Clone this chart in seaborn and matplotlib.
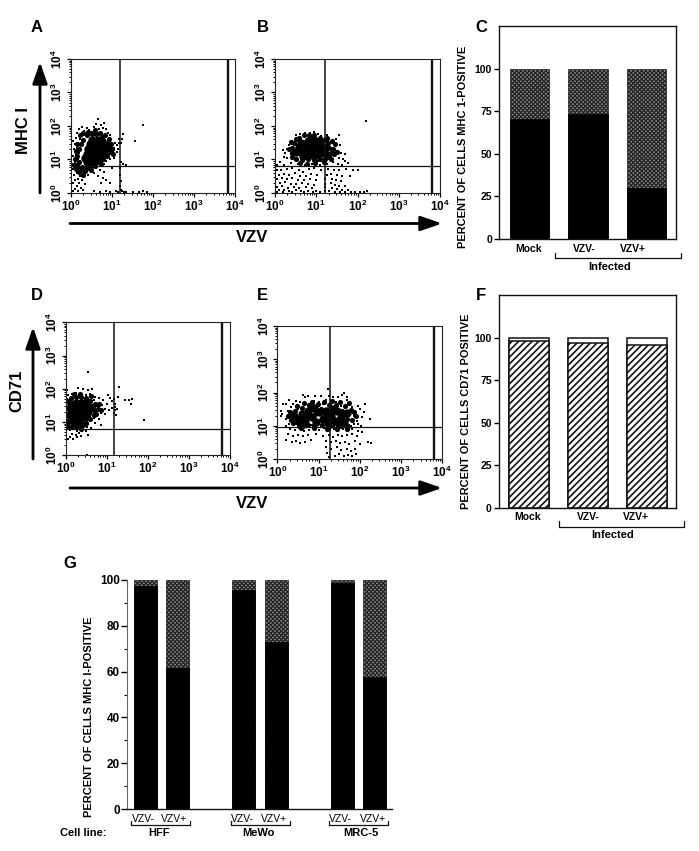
import matplotlib
matplotlib.use("Agg")
import matplotlib.pyplot as plt
import numpy as np
import seaborn as sns
from matplotlib.ticker import FuncFormatter, LogLocator, MultipleLocator, NullFormatter

W, H = 699, 851

""" Data, flow panels are log10 positions read from the picture """
a_core = [(0.42,1.0),(0.57,1.0),(0.72,1.05),(0.4,1.15),(0.52,1.15),(0.67,1.15),(0.8,1.2),(0.42,1.3),(0.57,1.3),
          (0.72,1.3),(0.82,1.32),(0.47,1.45),(0.62,1.45),(0.75,1.45),(0.52,1.58),(0.66,1.58),(0.35,1.05),(0.38,0.92),
          (0.5,0.87),(0.76,1.55)]
a_mid = [(0.2,1.3),(0.25,1.45),(0.3,1.58),(0.38,1.72),(0.5,1.75),(0.62,1.75),(0.75,1.68),(0.87,1.5),(0.92,1.38),
         (0.94,1.22),(0.88,1.1),(0.78,1.0),(0.66,0.92),(0.58,0.82),(0.4,0.75),(0.28,0.78),(0.2,0.92),(0.15,1.1),
         (0.25,0.7),(0.35,0.65),(0.15,0.85),(0.1,1.0),(0.12,1.25),(0.15,1.45),(0.22,1.72),(0.3,1.8),(0.42,1.82),
         (0.58,1.88),(0.7,1.8),(0.82,1.72),(0.97,1.45),(1.0,1.3),(1.03,1.15),(0.72,0.88),(0.2,0.62),(0.12,0.72),
         (0.3,0.55),(0.08,0.85),(0.92,1.62),(0.48,0.7)]
a_halo = [(0.65,2.2),(0.6,2.05),(0.72,2.02),(0.8,2.08),(0.55,1.98),(0.68,1.92),(0.78,1.95),(0.85,1.9),(0.4,1.95),
          (0.28,1.97),(0.32,1.85),(0.45,1.88),(0.5,1.82),(0.2,1.9),(0.9,1.8),(0.95,1.72),(0.15,1.8),(0.25,1.75),
          (0.12,1.65),(0.22,1.62),(0.18,1.5),(0.1,1.45),(0.05,1.55),(0.08,1.3),(0.15,1.35),(0.2,1.2),(0.12,1.12),
          (0.05,1.1),(0.18,1.02),(0.1,0.92),(0.03,0.88),(0.15,0.82),(0.95,1.55),(1.0,1.45),(1.05,1.35),(0.98,1.2),
          (0.92,1.35),(0.9,1.1),(1.02,1.25),(1.08,1.5),(1.12,1.42),(1.18,1.48),(1.22,1.5),(1.27,1.75),(1.25,1.6),
          (1.18,1.62),(1.15,1.3),(0.95,1.02),(0.85,0.95),(0.8,0.88),(1.05,1.05),(1.13,1.22),(1.55,1.55),(1.75,2.03),
          (1.22,0.92),(1.28,0.88),(1.35,0.85),(0.2,0.75),(0.3,0.78),(0.4,0.72),(0.12,0.7),(0.05,0.72),(0.25,0.65),
          (0.35,0.62),(0.15,0.6),(0.08,0.55),(0.22,0.52),(0.3,0.5),(0.42,0.55),(0.5,0.7),(0.6,0.75),(0.55,0.6),
          (0.18,0.42),(0.28,0.38),(0.1,0.4),(0.06,0.3),(0.2,0.3),(0.35,0.28),(0.15,0.2),(0.25,0.15),(0.1,0.12),
          (0.05,0.05),(0.3,0.08),(0.18,0.05),(0.7,0.68),(0.8,0.62),(0.78,0.45),(0.85,0.4),(0.95,0.3),(1.0,0.75),
          (0.65,0.5),(0.72,0.3),(1.2,0.75),(1.2,0.55),(1.21,0.35),(1.2,0.2),(1.22,0.1),(1.1,0.05),(1.15,0.03),
          (1.25,0.05),(1.3,0.04),(0.85,0.05),(0.7,0.04),(0.55,0.06),(1.5,0.04),(1.65,0.03),(1.75,0.05),(1.85,0.03),
          (1.35,0.03),(0.95,0.03)]

b_core = [(0.52,1.22),(0.58,1.36),(0.64,1.5),(0.67,1.1),(0.72,1.25),(0.78,1.4),(0.8,1.55),(0.84,1.12),(0.9,1.28),
          (0.94,1.45),(1.0,1.55),(1.02,1.14),(1.07,1.28),(1.1,1.45),(1.17,1.2),(1.2,1.35),(0.62,1.22),(0.87,1.6),
          (1.22,1.18)]
b_mid = [(0.4,1.2),(0.42,1.35),(0.45,1.48),(0.5,1.6),(0.58,1.65),(0.7,1.72),(0.82,1.72),(0.95,1.72),(1.08,1.65),
         (1.18,1.58),(1.28,1.48),(1.32,1.35),(1.35,1.2),(1.3,1.08),(1.2,1.02),(1.08,1.0),(0.95,0.98),(0.8,1.0),
         (0.65,0.98),(0.52,1.02),(0.42,1.08),(0.35,1.3),(0.38,1.52),(1.4,1.3),(1.45,1.45),(1.38,1.55),(1.42,1.15),
         (1.5,1.22),(1.25,1.65),(0.6,0.9),(0.78,0.88),(0.98,0.9),(1.18,0.92),(1.35,1.0)]
b_halo = [(2.2,2.15),(0.6,1.75),(0.72,1.8),(0.85,1.78),(0.95,1.82),(1.05,1.75),(1.12,1.7),(1.25,1.72),(0.5,1.72),
          (0.42,1.55),(0.35,1.42),(0.3,1.3),(0.25,1.2),(0.2,1.28),(0.38,1.15),(0.42,1.02),(0.3,1.05),(0.22,1.08),
          (0.55,0.98),(0.68,0.95),(0.8,0.97),(0.92,0.98),(1.05,0.96),(1.18,1.0),(1.3,1.05),(1.32,1.2),(1.38,1.3),
          (1.3,1.4),(1.35,1.52),(1.42,1.48),(1.48,1.6),(1.55,1.72),(1.58,1.42),(1.5,1.25),(1.6,1.18),(1.42,1.1),
          (1.55,1.05),(1.65,1.0),(1.7,1.15),(1.28,1.55),(1.7,0.95),(1.52,0.88),(1.62,0.85),(1.4,0.92),(1.78,0.9),
          (1.25,0.88),(1.08,0.85),(0.9,0.88),(0.72,0.85),(0.55,0.88),(0.38,0.9),(0.22,0.85),(0.12,0.92),(0.05,0.85),
          (0.15,0.7),(0.05,0.68),(0.28,0.72),(0.42,0.75),(0.58,0.7),(0.68,0.62),(0.82,0.72),(0.95,0.75),(1.12,0.7),
          (1.28,0.72),(1.42,0.68),(1.55,0.7),(1.72,0.72),(1.9,0.7),(2.02,0.68),(0.1,0.55),(0.22,0.58),(0.35,0.55),
          (0.48,0.6),(0.6,0.5),(0.75,0.52),(0.88,0.58),(1.02,0.55),(1.25,0.55),(1.35,0.58),(1.5,0.55),(1.62,0.5),
          (1.82,0.52),(0.05,0.42),(0.18,0.45),(0.3,0.42),(0.42,0.45),(0.55,0.38),(0.7,0.4),(0.85,0.42),(1.0,0.38),
          (1.22,0.42),(1.38,0.42),(1.48,0.38),(1.6,0.35),(0.12,0.3),(0.25,0.32),(0.38,0.28),(0.5,0.28),(0.65,0.3),
          (0.8,0.28),(0.95,0.25),(1.22,0.28),(1.35,0.3),(1.45,0.25),(1.55,0.22),(1.7,0.2),(0.06,0.18),(0.18,0.2),
          (0.32,0.16),(0.45,0.18),(0.58,0.15),(0.75,0.18),(0.9,0.14),(1.22,0.18),(1.38,0.15),(1.5,0.13),(1.62,0.1),
          (1.78,0.1),(0.1,0.08),(0.22,0.1),(0.35,0.06),(0.5,0.08),(0.62,0.05),(0.8,0.07),(1.0,0.06),(1.1,0.04),
          (1.22,0.06),(1.3,0.05),(1.45,0.04),(1.58,0.04),(1.7,0.03),(1.85,0.03),(1.95,0.04),(2.05,0.03),(2.15,0.03),
          (2.22,0.05),(0.05,0.03),(0.2,0.03),(0.42,0.03),(0.7,0.03),(0.92,0.03)]

d_core = [(0.12,1.1),(0.24,1.08),(0.36,1.1),(0.48,1.15),(0.1,1.25),(0.2,1.25),(0.32,1.25),(0.44,1.28),(0.55,1.3),
          (0.12,1.4),(0.24,1.4),(0.36,1.42),(0.48,1.45),(0.57,1.45),(0.14,1.55),(0.26,1.58),(0.38,1.58),(0.49,1.6),
          (0.2,0.98),(0.34,0.98)]
d_mid = [(0.05,1.0),(0.04,1.2),(0.04,1.42),(0.06,1.62),(0.14,1.72),(0.25,1.75),(0.38,1.75),(0.5,1.72),(0.6,1.62),
         (0.68,1.5),(0.7,1.35),(0.68,1.2),(0.6,1.08),(0.5,0.98),(0.42,0.9),(0.28,0.85),(0.15,0.85),(0.06,0.88),
         (0.78,1.4),(0.75,1.25),(0.72,1.55),(0.2,1.85),(0.35,1.85),(0.62,1.78),(0.8,1.55),(0.85,1.35),(0.38,0.8)]
d_halo = [(0.55,2.5),(0.3,2.02),(0.42,1.98),(0.55,1.95),(0.65,1.98),(0.15,1.85),(0.25,1.88),(0.38,1.85),(0.5,1.82),
          (0.6,1.85),(0.05,1.8),(0.72,1.75),(0.68,1.65),(0.75,1.58),(0.82,1.72),(0.9,1.65),(0.62,1.6),(0.68,1.5),
          (0.78,1.45),(0.88,1.5),(0.95,1.4),(1.0,1.55),(1.02,1.82),(1.08,1.72),(1.18,1.7),(1.12,1.62),(1.2,1.55),
          (0.65,1.35),(0.75,1.3),(0.85,1.28),(0.95,1.25),(1.05,1.35),(1.12,1.42),(1.2,1.45),(1.2,1.35),(1.18,1.28),
          (1.25,1.4),(1.22,1.2),(1.3,2.05),(1.27,1.75),(1.45,1.65),(1.55,1.65),(1.6,1.55),(1.62,1.7),(1.9,1.05),
          (0.6,1.18),(0.7,1.12),(0.62,1.05),(0.8,1.08),(0.5,1.05),(0.55,0.95),(0.72,0.98),(0.42,0.9),(0.52,0.85),
          (0.05,0.9),(0.12,0.85),(0.22,0.88),(0.3,0.85),(0.38,0.82),(0.1,0.75),(0.18,0.78),(0.28,0.72),(0.4,0.72),
          (0.5,0.74),(0.62,0.82),(0.15,0.65),(0.25,0.62),(0.33,0.66),(0.1,0.55),(0.18,0.5),(0.28,0.55),(0.05,0.48),
          (0.38,0.58),(0.55,0.62),(0.52,0.02),(0.03,1.95),(0.02,1.7),(0.03,1.05),(0.85,0.92)]

e_core = [(0.5,1.15),(0.6,1.35),(0.68,1.15),(0.75,1.45),(0.85,1.25),(0.95,1.1),(1.0,1.4),(1.1,1.2),(1.18,1.45),
          (1.22,1.08),(1.3,1.3),(1.4,1.15),(1.45,1.45),(1.55,1.25),(1.62,1.08),(1.68,1.38),(0.4,1.3),(1.35,1.5),
          (0.9,1.52),(1.2,1.28),(1.5,1.05)]
e_mid = [(0.38,1.08),(0.42,1.45),(0.48,1.6),(0.52,1.02),(0.55,1.25),(0.6,1.52),(0.62,1.0),(0.65,1.68),(0.72,1.3),
         (0.75,1.02),(0.78,1.62),(0.85,1.72),(0.88,1.02),(0.92,1.35),(0.98,1.65),(1.05,1.5),(1.08,1.02),(1.12,1.72),
         (1.15,1.35),(1.25,1.62),(1.28,1.0),(1.32,1.75),(1.38,1.4),(1.42,1.62),(1.48,0.98),(1.52,1.7),(1.58,1.45),
         (1.65,1.6),(1.7,1.2),(1.72,1.0),(1.78,1.48),(1.82,1.18),(1.85,1.4),(1.58,1.0),(0.32,1.18),(0.3,1.4),(0.25,1.3),
         (1.9,1.28),(1.75,1.68),(0.58,0.92),(0.9,0.92),(1.2,0.9),(1.45,0.9),(1.7,0.9)]
e_halo = [(0.2,1.2),(0.25,1.45),(0.28,1.05),(0.32,1.55),(0.35,1.2),(0.38,1.65),(0.42,1.05),(0.45,1.75),(0.5,1.5),
          (0.55,1.7),(0.58,1.0),(0.62,1.55),(0.68,1.85),(0.72,0.98),(0.78,1.65),(0.82,1.02),(0.88,1.75),(0.92,1.88),
          (1.0,1.7),(1.05,1.0),(1.1,1.65),(1.18,1.78),(1.22,2.1),(1.25,1.9),(1.32,1.72),(1.38,1.0),(1.42,1.7),
          (1.48,1.85),(1.55,1.6),(1.62,2.0),(1.7,1.85),(1.75,1.65),(1.8,1.55),(1.85,1.3),(1.88,1.45),(1.92,1.15),
          (1.95,1.6),(2.0,1.5),(2.05,1.25),(2.12,1.65),(2.1,1.4),(1.95,1.05),(2.02,0.98),(1.78,0.98),(1.85,1.05),
          (0.15,1.65),(0.12,1.35),(0.08,1.28),(0.1,1.45),(0.22,1.65),(0.28,1.78),(0.62,1.92),(0.75,1.9),(1.05,1.88),
          (1.35,1.85),(1.58,1.92),(1.68,1.78),(2.25,1.2),(0.2,0.98),(0.3,0.9),(0.42,0.88),(0.52,0.92),(0.65,0.85),
          (0.78,0.88),(0.9,0.9),(1.02,0.86),(1.12,0.92),(1.28,0.88),(1.38,0.9),(1.48,0.86),(1.6,0.9),(1.72,0.88),
          (1.82,0.9),(1.95,0.85),(2.05,0.8),(0.25,0.75),(0.38,0.7),(0.5,0.72),(0.62,0.68),(0.75,0.72),(0.95,0.75),
          (1.1,0.7),(1.25,0.72),(1.35,0.65),(1.48,0.72),(1.58,0.68),(1.7,0.72),(1.8,0.75),(1.92,0.68),(0.2,0.58),
          (0.35,0.5),(0.45,0.55),(0.55,0.48),(0.68,0.52),(0.82,0.58),(1.18,0.55),(1.3,0.5),(1.42,0.55),(1.52,0.48),
          (1.65,0.52),(1.75,0.45),(1.88,0.55),(2.2,0.5),(2.28,0.48),(1.18,0.35),(1.3,0.3),(1.45,0.35),(1.55,0.28),
          (1.68,0.3),(1.78,0.25),(1.88,0.3),(2.0,0.45),(1.4,0.1),(1.5,0.14),(1.62,0.08),(1.72,0.12),(1.82,0.1),
          (1.9,0.15),(1.25,0.05),(1.2,0.18)]

gate_a = (1.195, 3.83, 0.815)
gate_b = (1.21, 3.80, 0.805)
gate_d = (1.19, 3.82, 0.79)
gate_e = (1.27, 3.80, 0.95)

status_labels = ["Mock", "VZV-", "VZV+"]
c_low = [70.5, 73, 30]
c_total = [100, 100, 100]
f_low = [98, 97, 96]
f_total = [100, 100, 100]

g_order = ["HFF -", "HFF +", " ", "MeWo -", "MeWo +", "  ", "MRC-5 -", "MRC-5 +"]
g_groups = ["HFF -", "HFF +", "MeWo -", "MeWo +", "MRC-5 -", "MRC-5 +"]
g_low = [97.5, 61.5, 95.5, 73, 98.5, 57.5]
g_total = [100, 100, 100, 100, 100, 100]

""" Parameter settings """
sns.set_style("white")
plt.rcParams["font.family"] = ["Liberation Sans", "DejaVu Sans"]
plt.rcParams["font.weight"] = "bold"
plt.rcParams["text.color"] = "black"
plt.rcParams["axes.labelcolor"] = "black"
plt.rcParams["xtick.color"] = "black"
plt.rcParams["ytick.color"] = "black"
plt.rcParams["mathtext.fontset"] = "custom"
plt.rcParams["mathtext.bf"] = "Liberation Sans:bold"
plt.rcParams["mathtext.rm"] = "Liberation Sans:bold"
plt.rcParams["hatch.linewidth"] = 0.9

fig = plt.figure(figsize=(W / 100, H / 100), dpi=100, facecolor="white")


def px_axes(left, top, right, bottom):
    return fig.add_axes([left / W, 1 - bottom / H, (right - left) / W, (bottom - top) / H])


def flow_panel(box, core, mid, halo, gate):
    ax = px_axes(*box)
    core = np.array(core)
    mid = np.array(mid)
    halo = np.array(halo)
    sns.scatterplot(x=10 ** core[:, 0], y=10 ** core[:, 1], s=36, color="black", linewidth=0, ax=ax)
    sns.scatterplot(x=10 ** mid[:, 0], y=10 ** mid[:, 1], s=14, color="black", linewidth=0, ax=ax)
    sns.scatterplot(x=10 ** halo[:, 0], y=10 ** halo[:, 1], s=2.6, marker="s", color="black", linewidth=0, ax=ax)
    ax.set(xscale="log", yscale="log", xlim=(1, 1e4), ylim=(1, 1e4))
    ax.axvline(10 ** gate[0], color="#111111", lw=1.1)
    ax.axvline(10 ** gate[1], color="#111111", lw=1.7)
    ax.axhline(10 ** gate[2], color="#111111", lw=0.9)
    fmt = FuncFormatter(lambda v, p: r"$\mathbf{10^{%d}}$" % round(np.log10(v)))
    for axis in (ax.xaxis, ax.yaxis):
        axis.set_major_locator(LogLocator(base=10, numticks=6))
        axis.set_minor_locator(LogLocator(base=10, subs=np.arange(2, 10) * 0.1, numticks=12))
        axis.set_major_formatter(fmt)
        axis.set_minor_formatter(NullFormatter())
    ax.tick_params(which="major", direction="out", length=3, width=0.9, labelsize=8.5, pad=1, left=True, bottom=True)
    ax.tick_params(which="minor", direction="out", length=1.5, width=0.7, left=True, bottom=True)
    ax.tick_params(axis="y", labelrotation=90)
    for label in ax.get_yticklabels():
        label.set_va("center")
    for spine in ax.spines.values():
        spine.set_color("#222222")
        spine.set_linewidth(0.8)
    return ax


def bar_panel(box, x_order, total, low, groups, xlim, ylim, width, top_style, low_style):
    ax = px_axes(*box)
    sns.barplot(x=groups, y=total, order=x_order, width=width, saturation=1, ax=ax, **top_style)
    sns.barplot(x=groups, y=low, order=x_order, width=width, saturation=1, ax=ax, **low_style)
    ax.set(xlim=xlim, ylim=ylim, xlabel="", ylabel="")
    ax.set_xticks([])
    return ax


def bracket(x0, x1, y, up):
    overlay.plot([x0, x0, x1, x1], [y - up, y, y, y - up], color="#111111", lw=0.9)


stipple = {"color": "#8a8a8a", "edgecolor": "#222222", "hatch": "xxxxxxxx", "linewidth": 0.5}
solid = {"color": "black", "edgecolor": "black", "linewidth": 0.5}
blank = {"color": "white", "edgecolor": "#111111", "linewidth": 1.1}
stripes = {"color": "white", "edgecolor": "#111111", "hatch": "/////", "linewidth": 1.1}

""" Flow panels """
flow_panel((71, 59, 235, 193), a_core, a_mid, a_halo, gate_a)
flow_panel((275, 59, 440, 193), b_core, b_mid, b_halo, gate_b)
flow_panel((65.7, 322.3, 229.7, 455.3), d_core, d_mid, d_halo, gate_d)
flow_panel((277.3, 326, 442.3, 459), e_core, e_mid, e_halo, gate_e)

""" Bar panels C and F """
ax_c = bar_panel((499, 26, 675.5, 238.7), status_labels, c_total, c_low, status_labels,
                 (-0.515, 2.49), (0, 125), 0.67, stipple, solid)
plt.rcParams["hatch.linewidth"] = 1.2
ax_f = bar_panel((498.7, 295.3, 675.7, 507.7), status_labels, f_total, f_low, status_labels,
                 (-0.515, 2.49), (0, 125), 0.67, blank, stripes)
plt.rcParams["hatch.linewidth"] = 0.9
for ax in (ax_c, ax_f):
    ax.set_yticks([0, 25, 50, 75, 100])
    ax.tick_params(axis="y", left=True, length=3.5, width=1, labelsize=7.5, pad=1.5)
    for spine in ax.spines.values():
        spine.set_color("#111111")
        spine.set_linewidth(1)

""" Bar panel G """
ax_g = bar_panel((127.3, 580, 392.3, 809), g_order, g_total, g_low, g_groups,
                 (-0.54, 7.53), (0, 100), 0.7, stipple, solid)
ax_g.set_yticks([0, 20, 40, 60, 80, 100])
ax_g.yaxis.set_minor_locator(MultipleLocator(10))
ax_g.tick_params(axis="y", which="major", left=True, length=4, width=1, labelsize=8.5, pad=1.5)
ax_g.tick_params(axis="y", which="minor", left=True, length=2.5, width=0.8)
sns.despine(ax=ax_g, top=True, right=True)
ax_g.spines["left"].set_color("#666666")
ax_g.spines["left"].set_linewidth(0.8)
ax_g.spines["bottom"].set_color("#111111")
ax_g.spines["bottom"].set_linewidth(1)

""" Labels, arrows and brackets on a figure wide overlay in pixels """
overlay = fig.add_axes([0, 0, 1, 1], facecolor="none")
overlay.set(xlim=(0, W), ylim=(H, 0))
overlay.axis("off")

for letter, lx, ly in [("A", 37, 28), ("B", 263, 27), ("C", 481, 27), ("D", 37, 296),
                       ("E", 262, 295), ("F", 481, 296), ("G", 70, 564)]:
    overlay.text(lx, ly, letter, fontsize=12, ha="center", va="center")

arrow_style = dict(arrowstyle="-|>,head_width=0.45,head_length=1.3", color="black", lw=2, shrinkA=0, shrinkB=0)
for start, end in [((40, 193), (40, 62)), ((70, 223.5), (442, 223.5)), ((33, 459), (33, 327)), ((70, 488), (442, 488))]:
    overlay.annotate("", xy=end, xytext=start, arrowprops=arrow_style)

overlay.text(23, 131, "MHC I", fontsize=12, rotation=90, ha="center", va="center")
overlay.text(17, 391, "CD71", fontsize=12, rotation=90, ha="center", va="center")
overlay.text(252, 238, "VZV", fontsize=12, ha="center", va="center")
overlay.text(252, 503, "VZV", fontsize=12, ha="center", va="center")

overlay.text(463, 147, "PERCENT OF CELLS MHC 1-POSITIVE", fontsize=7.9, rotation=90, ha="center", va="center")
overlay.text(466, 411, "PERCENT OF CELLS CD71 POSITIVE", fontsize=7.9, rotation=90, ha="center", va="center")
overlay.text(89, 717, "PERCENT OF CELLS MHC I-POSITIVE", fontsize=8, rotation=90, ha="center", va="center")

for name, lx in zip(status_labels, [529, 584, 633]):
    overlay.text(lx, 249, name, fontsize=7.5, ha="center", va="center")
for name, lx in zip(status_labels, [528, 588, 636]):
    overlay.text(lx, 517, name, fontsize=7.5, ha="center", va="center")
bracket(555, 681, 258, 5)
bracket(559, 684, 527, 6)
overlay.text(610, 267, "Infected", fontsize=8, ha="center", va="center")
overlay.text(613, 535, "Infected", fontsize=8, ha="center", va="center")

for name, lx in zip(["VZV-", "VZV+"] * 3, [143, 174, 242, 274, 340, 373]):
    overlay.text(lx, 819, name, fontsize=7.5, ha="center", va="center", fontweight="normal")
bracket(131, 190, 825, 4)
bracket(231, 290, 825, 4)
bracket(329, 388, 825, 4)
for name, lx in zip(["HFF", "MeWo", "MRC-5"], [159, 258, 361]):
    overlay.text(lx, 833, name, fontsize=8, ha="center", va="center")
overlay.text(83, 833, "Cell line:", fontsize=8, ha="center", va="center")

plt.savefig("out.png", dpi=100)
